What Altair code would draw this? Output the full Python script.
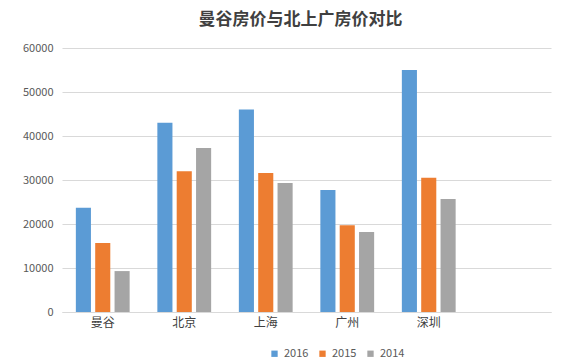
import altair as alt
import pandas as pd

cities = ["曼谷", "北京", "上海", "广州", "深圳"]
years = ["2016", "2015", "2014"]
v2016 = [23700, 43000, 46000, 27700, 55000]
v2015 = [15700, 32000, 31600, 19700, 30500]
v2014 = [9300, 37300, 29300, 18200, 25700]
colors = ["#5B9BD5", "#ED7D31", "#A5A5A5"]

rows = []
for y, vals in zip(years, [v2016, v2015, v2014]):
    for c, v in zip(cities, vals):
        rows.append({"city": c, "year": y, "value": v})
df = pd.DataFrame(rows)

font = "Noto Sans CJK SC"

chart = alt.Chart(df).mark_bar().encode(
    x=alt.X("city:N", sort=cities,
            scale=alt.Scale(domain=cities + [" "], paddingInner=0.34, paddingOuter=0.17),
            axis=alt.Axis(title=None, labelAngle=0, labelFont=font, labelFontSize=12,
                          labelColor="#404040", ticks=False, domainColor="#d9d9d9",
                          labelPadding=5, grid=False)),
    xOffset=alt.XOffset("year:N", sort=years, scale=alt.Scale(domain=years, paddingInner=0.22)),
    y=alt.Y("value:Q", scale=alt.Scale(domain=[0, 60000]),
            axis=alt.Axis(title=None, values=[0, 10000, 20000, 30000, 40000, 50000, 60000],
                          format="d", labelFont=font, labelFontSize=11, labelColor="#595959",
                          ticks=False, domain=False, gridColor="#d9d9d9", labelPadding=9)),
    color=alt.Color("year:N", sort=years,
                    scale=alt.Scale(domain=years, range=colors),
                    legend=alt.Legend(title=None, orient="none", direction="horizontal",
                                      legendX=207, legendY=300, symbolType="square",
                                      symbolSize=40, labelFont=font, labelFontSize=11,
                                      labelColor="#595959", columnPadding=8)),
).properties(
    width=489, height=264,
    title=alt.TitleParams("曼谷房价与北上广房价对比", font=font, fontSize=17, fontWeight="bold",
                          color="#404040", anchor="middle", dx=-6, offset=13),
    autosize=alt.AutoSizeParams(type="none"),
    padding={"left": 54, "top": 40, "right": 24, "bottom": 60},
).configure_view(stroke=None)

chart.save("out.html", embed_options={"renderer": "svg", "actions": False})
